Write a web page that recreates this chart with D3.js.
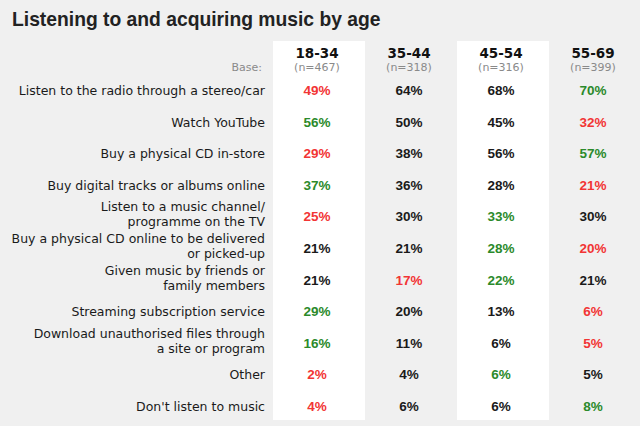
<!DOCTYPE html>
<html>
<head>
<meta charset="utf-8">
<script src="https://cdn.jsdelivr.net/npm/d3@7"></script>
<style>
  body { margin: 0; background: #f0f0f0; }
  svg { display: block; font-family: "DejaVu Sans", sans-serif; }
</style>
</head>
<body>
<svg width="640" height="426"></svg>
<script>
  const title = 'Listening to and acquiring music by age';

  // age groups and sample sizes
  const ages = ['18-34', '35-44', '45-54', '55-69'];
  const bases = ['(n=467)', '(n=318)', '(n=316)', '(n=399)'];

  // row labels (split into lines as in the original)
  const activities = [
    ['Listen to the radio through a stereo/car'],
    ['Watch YouTube'],
    ['Buy a physical CD in-store'],
    ['Buy digital tracks or albums online'],
    ['Listen to a music channel/', 'programme on the TV'],
    ['Buy a physical CD online to be delivered', 'or picked-up'],
    ['Given music by friends or', 'family members'],
    ['Streaming subscription service'],
    ['Download unauthorised files through', 'a site or program'],
    ['Other'],
    ["Don't listen to music"]
  ];

  // percentages, one array per age group
  const v1834 = [49, 56, 29, 37, 25, 21, 21, 29, 16, 2, 4];
  const v3544 = [64, 50, 38, 36, 30, 21, 17, 20, 11, 4, 6];
  const v4554 = [68, 45, 56, 28, 33, 28, 22, 13, 6, 6, 6];
  const v5569 = [70, 32, 57, 21, 30, 20, 21, 6, 5, 5, 8];
  const columns = [v1834, v3544, v4554, v5569];

  const svg = d3.select('svg');

  const x = d3.scaleBand()
    .domain(ages)
    .range([273, 641]);

  const y = d3.scalePoint()
    .domain(d3.range(activities.length))
    .range([90, 406]);

  const cx = d => x(d) + x.bandwidth() / 2 - 2;

  // white bands behind every other column
  svg.selectAll('rect.band')
    .data(ages.filter((d, i) => i % 2 === 0))
    .enter().append('rect')
      .attr('class', 'band')
      .attr('x', d => x(d))
      .attr('y', 41)
      .attr('width', x.bandwidth())
      .attr('height', 379)
      .attr('fill', '#ffffff');

  svg.append('text')
    .attr('x', 12)
    .attr('y', 26)
    .attr('font-family', '"Liberation Sans", Arial, sans-serif')
    .attr('font-size', 19.3)
    .attr('font-weight', 'bold')
    .attr('fill', '#222')
    .text(title);

  // column headers
  svg.selectAll('text.age')
    .data(ages)
    .enter().append('text')
      .attr('x', cx)
      .attr('y', 58)
      .attr('text-anchor', 'middle')
      .attr('font-size', 13.5)
      .attr('font-weight', 'bold')
      .attr('fill', '#111')
      .text(d => d);

  svg.selectAll('text.base')
    .data(bases)
    .enter().append('text')
      .attr('x', (d, i) => cx(ages[i]))
      .attr('y', 71)
      .attr('text-anchor', 'middle')
      .attr('font-size', 11)
      .attr('fill', '#8a8a8a')
      .text(d => d);

  svg.append('text')
    .attr('x', 262)
    .attr('y', 71)
    .attr('text-anchor', 'end')
    .attr('font-size', 11)
    .attr('fill', '#8a8a8a')
    .text('Base:');

  // row labels
  const labelG = svg.selectAll('text.label')
    .data(activities)
    .enter().append('text')
      .attr('text-anchor', 'end')
      .attr('font-size', 12.5)
      .attr('fill', '#1a1a1a');

  labelG.selectAll('tspan')
    .data((d, i) => d.map((t, j) => ({ t, j, n: d.length, i })))
    .enter().append('tspan')
      .attr('x', 265)
      .attr('y', d => y(d.i) + 5 + (d.n === 1 ? 0 : (d.j === 0 ? -10 : 5)))
      .text(d => d.t);

  // values: highest in a row green, lowest red
  const colorFor = (v, i) => {
    const row = columns.map(c => c[i]);
    if (v === d3.max(row)) return '#2b8a2b';
    if (v === d3.min(row)) return '#f23535';
    return '#1a1a1a';
  };

  columns.forEach((col, c) => {
    svg.selectAll('text.val' + c)
      .data(col)
      .enter().append('text')
        .attr('x', cx(ages[c]))
        .attr('y', (d, i) => y(i) + 5)
        .attr('text-anchor', 'middle')
        .attr('font-family', '"Liberation Sans", Arial, sans-serif')
        .attr('font-size', 13.5)
        .attr('font-weight', 'bold')
        .attr('fill', (d, i) => colorFor(d, i))
        .text(d => d + '%');
  });
</script>
</body>
</html>
